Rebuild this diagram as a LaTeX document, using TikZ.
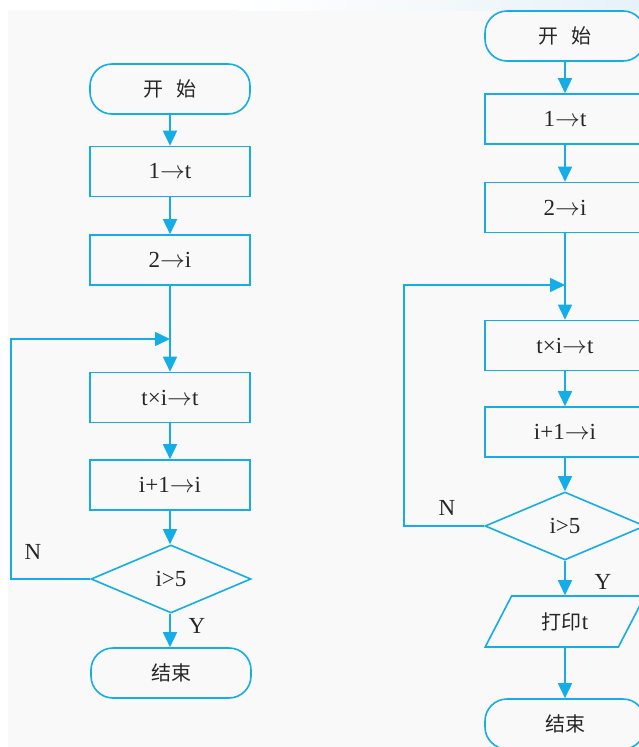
\documentclass[tikz,border=0pt]{standalone}
\usepackage{fontspec}
\setmainfont{Liberation Serif}
\newfontfamily\cjk{Noto Sans CJK SC}
\usetikzlibrary{shapes.geometric,arrows.meta}
\definecolor{flow}{HTML}{14ADE6}
\definecolor{ink}{HTML}{262626}
\definecolor{paper}{HTML}{F9F9F9}
\definecolor{haze}{HTML}{E6F2F9}
\newcommand{\goesto}{\ensuremath{\rightarrow}}
\begin{document}
\begin{tikzpicture}[x=1pt,y=-1pt,
  line/.style={draw=flow,line width=1.6pt},
  arr/.style={line,-{Triangle[length=15pt,width=14pt]}},
  txt/.style={text=ink,font=\fontsize{23}{23}\selectfont},
  proc/.style={line,txt,rectangle,minimum width=160pt,minimum height=50pt,inner sep=0pt},
  term/.style={proc,rounded corners=22pt},
  dec/.style={line,txt,diamond,minimum width=160pt,minimum height=68pt,inner sep=0pt},
  io/.style={line,txt,trapezium,trapezium left angle=58,trapezium right angle=122,
             trapezium stretches=true,minimum width=160pt,minimum height=51pt,inner sep=0pt},
  lbl/.style={txt,inner sep=0pt}]
% page
\useasboundingbox (0,0) rectangle (639,747);
\clip (0,0) rectangle (639,747);
\fill[white] (0,0) rectangle (639,747);
\fill[paper] (8,10) rectangle (639,747);
\shade[left color=white,right color=haze] (238,0) rectangle (639,10);

% ---- first flowchart ----
\node[term] (s1) at (170,89) {\cjk\fontsize{20}{20}\selectfont 开\hspace{0.7em}始};
\node[proc] (b1) at (170,171.5) {1\goesto t};
\node[proc] (b2) at (170,260) {2\goesto i};
\coordinate (j1) at (170,339);
\node[proc] (b3) at (170,397.5) {t×i\goesto t};
\node[proc] (b4) at (170,485) {i+1\goesto i};
\node[dec]  (d1) at (171,579) {i>5};
\node[term] (e1) at (171,673) {\cjk\fontsize{20}{20}\selectfont 结束};
\coordinate (c1) at (11,339);
\node[lbl] (n1) at (33,552) {N};
\node[lbl] (y1) at (197,626) {Y};

\draw[arr] (s1) -- (b1);
\draw[arr] (b1) -- (b2);
\draw[line] (b2) -- (j1);
\draw[arr] (j1) -- (b3);
\draw[arr] (b3) -- (b4);
\draw[arr] (b4) -- (d1.north -| b4);
\draw[arr] (d1.south -| b4) -- (e1.north -| b4);
\draw[arr] (d1.west) -| (c1) -- (j1);

% ---- second flowchart ----
\node[term] (s2) at (565,36) {\cjk\fontsize{20}{20}\selectfont 开\hspace{0.7em}始};
\node[proc] (k1) at (565,119) {1\goesto t};
\node[proc] (k2) at (565,207.5) {2\goesto i};
\coordinate (j2) at (565,285);
\node[proc] (k3) at (565,345.5) {t×i\goesto t};
\node[proc] (k4) at (565,432) {i+1\goesto i};
\node[dec]  (d2) at (565,526) {i>5};
\node[io]   (p2) at (565,621.5) {{\cjk\fontsize{20}{20}\selectfont 打印}t};
\node[term] (e2) at (565,724) {\cjk\fontsize{20}{20}\selectfont 结束};
\coordinate (c2) at (404,285);
\node[lbl] (n2) at (447,508) {N};
\node[lbl] (y2) at (603,582) {Y};

\draw[arr] (s2) -- (k1);
\draw[arr] (k1) -- (k2);
\draw[line] (k2) -- (j2);
\draw[arr] (j2) -- (k3);
\draw[arr] (k3) -- (k4);
\draw[arr] (k4) -- (d2);
\draw[arr] (d2) -- (p2);
\draw[arr] (p2) -- (e2);
\draw[arr] (d2.west) -| (c2) -- (j2);
\end{tikzpicture}
\end{document}
